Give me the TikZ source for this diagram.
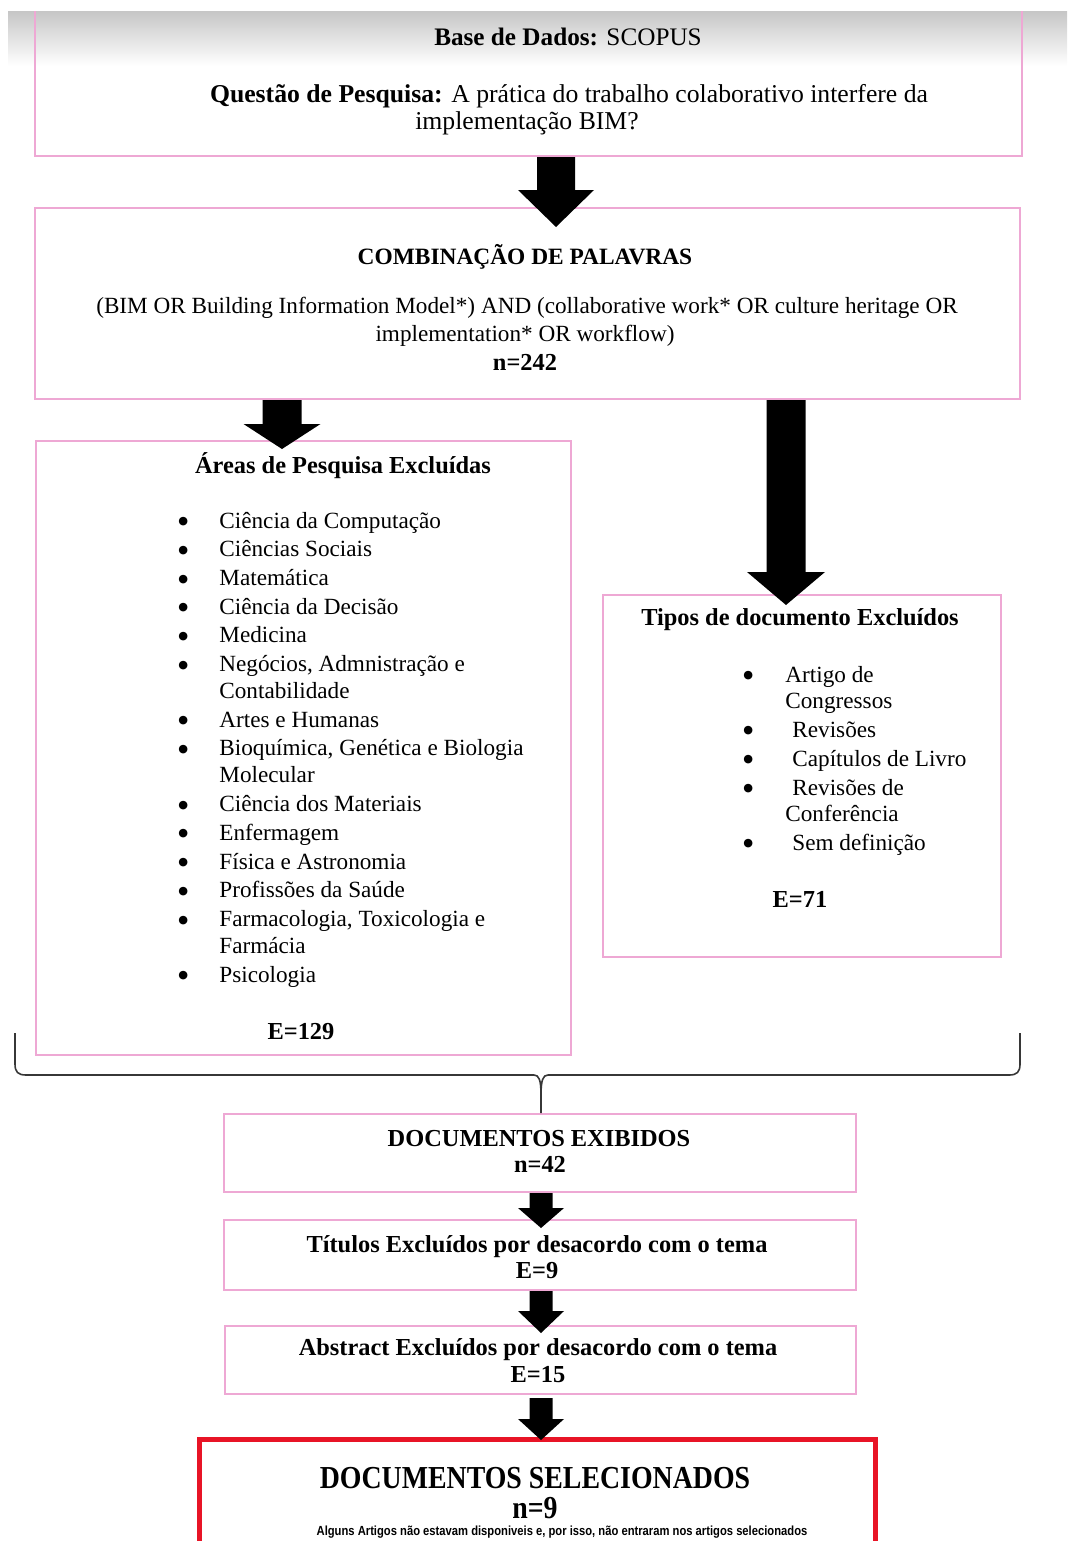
\documentclass[tikz,border=0pt]{standalone}
\usepackage{fontspec}
\setmainfont{Liberation Serif}
\newfontfamily\condserif{Liberation Serif}[FakeStretch=0.87]
\newfontfamily\notefont{Liberation Sans}[FakeStretch=0.85]
\newfontfamily\symfont{DejaVu Sans}
\usetikzlibrary{calc,fit}
\definecolor{pinkline}{RGB}{238,168,212}
\definecolor{redline}{RGB}{232,20,38}
\definecolor{bracecol}{RGB}{55,55,55}
\tikzset{
  pbox/.style={draw=pinkline, line width=1pt, inner sep=0pt},
  rbox/.style={draw=redline, line width=2.5pt, inner sep=0pt},
  txt/.style={anchor=base, inner sep=0pt},
  arrowfill/.style={fill=black},
  bracestyle/.style={draw=bracecol, line width=0.8pt}
}
\newcommand\fs[2]{\fontsize{#1}{#2}\selectfont}
\newcommand\bul{{\symfont\fontsize{5.6}{6}\selectfont\raisebox{1.7pt}{●}}}
% #1 start, #2 tip, #3 head length, #4 shaft half width, #5 head half width
\newcommand\blockarrow[5]{%
  \fill[arrowfill] ($(#1)+(-#4,0)$) -- ($(#1)+(#4,0)$) -- ($(#2)+(#4,-#3)$) -- ($(#2)+(#5,-#3)$) -- (#2) -- ($(#2)+(-#5,-#3)$) -- ($(#2)+(-#4,-#3)$) -- cycle;}
\begin{document}
\begin{tikzpicture}[x=0.5pt,y=-0.5pt]
\useasboundingbox (0,0) rectangle (1067,1541);
\clip (0,0) rectangle (1067,1541);
\fill[white] (0,0) rectangle (1067,1541);
\shade[top color=black!22, bottom color=white] (8,12) rectangle (1067,66);

% boxes
\node[pbox, fit={(35,-20)(1022,156)}] (top) {};
\fill[white] (0,0) rectangle (1067,11.5);
\node[pbox, fit={(35,208)(1020,399)}] (comb) {};
\node[pbox, fit={(36,441)(571,1055)}] (areas) {};
\node[pbox, fit={(603,595)(1001,957)}] (tipos) {};
\node[pbox, fit={(224,1114)(856,1192)}] (exib) {};
\node[pbox, fit={(224,1220)(856,1290)}] (tit) {};
\node[pbox, fit={(225,1326)(856,1394)}] (abs) {};
\node[rbox, fit={(199,1439)(875,1600)}] (sel) {};

% top box text
\node[txt] (base) at (568,46) {\fs{12.6}{15}\textbf{Base de Dados:} SCOPUS};
\node[txt] (quest) at (569,103) {\fs{12.85}{15}\textbf{Questão de Pesquisa:} A prática do trabalho colaborativo interfere da};
\node[txt] (quest2) at (527,130) {\fs{12.85}{15}implementação BIM?};

% combination box text
\node[txt] (combt) at (525,264) {\fs{11.7}{14}\textbf{COMBINAÇÃO DE PALAVRAS}};
\node[txt] (combq) at (527,313) {\fs{11.6}{14}(BIM OR Building Information Model*) AND (collaborative work* OR culture heritage OR};
\node[txt] (combq2) at (525,341) {\fs{11.6}{14}implementation* OR workflow)};
\node[txt] (combn) at (525,370) {\fs{12.2}{14}\textbf{n=242}};

% areas box
\node[txt] (areast) at (343,473) {\fs{12.2}{14}\textbf{Áreas de Pesquisa Excluídas}};
\node[txt, anchor=base west] (alist) at (178,528) {\fs{11.6}{13.5}\begin{tabular}[t]{@{}p{20.5pt}@{}l@{}}
\bul & Ciência da Computação\\[0.85pt]
\bul & Ciências Sociais\\[0.85pt]
\bul & Matemática\\[0.85pt]
\bul & Ciência da Decisão\\[0.85pt]
\bul & Medicina\\[0.85pt]
\bul & Negócios, Admnistração e\\
 & Contabilidade\\[0.85pt]
\bul & Artes e Humanas\\[0.85pt]
\bul & Bioquímica, Genética e Biologia\\
 & Molecular\\[0.85pt]
\bul & Ciência dos Materiais\\[0.85pt]
\bul & Enfermagem\\[0.85pt]
\bul & Física e Astronomia\\[0.85pt]
\bul & Profissões da Saúde\\[0.85pt]
\bul & Farmacologia, Toxicologia e\\
 & Farmácia\\[0.85pt]
\bul & Psicologia
\end{tabular}};
\node[txt] (areasn) at (301,1039) {\fs{12.2}{14}\textbf{E=129}};

% tipos box
\node[txt] (tipost) at (800,625) {\fs{12.2}{14}\textbf{Tipos de documento Excluídos}};
\node[txt, anchor=base west] (tlist) at (743,682) {\fs{11.6}{13}\begin{tabular}[t]{@{}p{21pt}@{}l@{}}
\bul & Artigo de\\
 & Congressos\\[1.5pt]
\bul & \hspace{3.5pt}Revisões\\[1.5pt]
\bul & \hspace{3.5pt}Capítulos de Livro\\[1.5pt]
\bul & \hspace{3.5pt}Revisões de\\
 & Conferência\\[1.5pt]
\bul & \hspace{3.5pt}Sem definição
\end{tabular}};
\node[txt] (tiposn) at (800,907) {\fs{12.2}{14}\textbf{E=71}};

% lower boxes text
\node[txt] (exibt) at (539,1146) {\fs{12.2}{14}\textbf{DOCUMENTOS EXIBIDOS}};
\node[txt] (exibn) at (540,1172) {\fs{12.2}{14}\textbf{n=42}};
\node[txt] (titt) at (537,1252) {\fs{12.2}{14}\textbf{Títulos Excluídos por desacordo com o tema}};
\node[txt] (titn) at (537,1278) {\fs{12.2}{14}\textbf{E=9}};
\node[txt] (abst) at (538,1355) {\fs{12.2}{14}\textbf{Abstract Excluídos por desacordo com o tema}};
\node[txt] (absn) at (538,1382) {\fs{12.2}{14}\textbf{E=15}};
\node[txt] (selt) at (535,1488) {\condserif\fs{16}{15}\begin{tabular}[t]{@{}c@{}}\textbf{DOCUMENTOS SELECIONADOS}\\\textbf{n=9}\end{tabular}};
\node[txt] (selnote) at (562,1535) {\notefont\fs{6.6}{7}\textbf{Alguns Artigos não estavam disponiveis e, por isso, não entraram nos artigos selecionados}};

% arrows
\coordinate (a1s) at (556,157);  \coordinate (a1t) at (556,227);
\coordinate (a2s) at (282,400);  \coordinate (a2t) at (282,449);
\coordinate (a3s) at (786,400);  \coordinate (a3t) at (786,605);
\coordinate (a4s) at (541,1193); \coordinate (a4t) at (541,1228);
\coordinate (a5s) at (541,1291); \coordinate (a5t) at (541,1333);
\coordinate (a6s) at (541,1398); \coordinate (a6t) at (541,1440);
\blockarrow{a1s}{a1t}{37}{19}{38}
\blockarrow{a2s}{a2t}{25}{19.5}{38.5}
\blockarrow{a3s}{a3t}{33}{19.5}{39}
\blockarrow{a4s}{a4t}{20}{11.5}{23}
\blockarrow{a5s}{a5t}{22}{11.5}{23}
\blockarrow{a6s}{a6t}{21}{11.5}{23}

% brace
\coordinate (bl) at (15,1033);
\coordinate (br) at (1020,1033);
\draw[bracestyle] (bl) -- (15,1064) .. controls (15,1072) and (18,1075) .. (26,1075) -- (534,1075) .. controls (539,1075) and (541,1080) .. (541,1095) -- (exib.north -| 541,0);
\draw[bracestyle] (br) -- (1020,1064) .. controls (1020,1072) and (1017,1075) .. (1009,1075) -- (548,1075) .. controls (543,1075) and (541,1080) .. (541,1095);
\end{tikzpicture}
\end{document}
